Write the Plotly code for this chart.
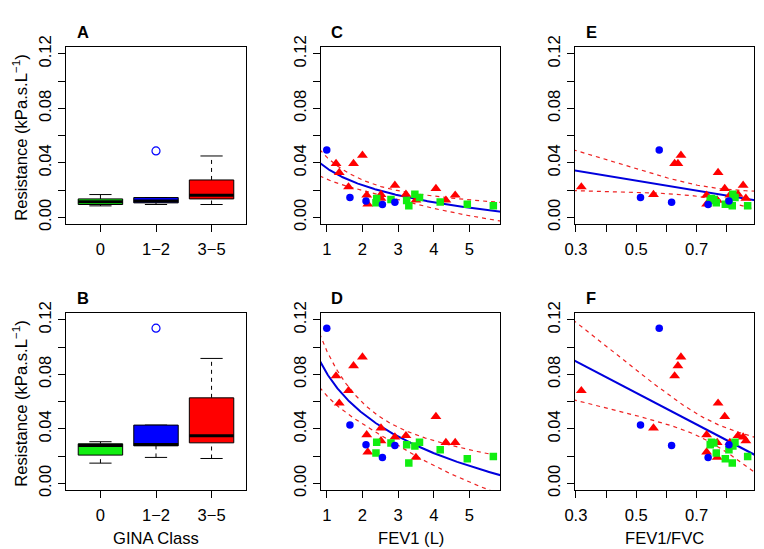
import numpy as np
import plotly.graph_objects as go

# ---------------- data ----------------
gina_labels = ["0", "1\u22122", "3\u22125"]
gina_colors = ["#11ee11", "#0000ff", "#ff0000"]

# Boxplot statistics, row A (resistance 1) and row B (resistance 2)
boxA_lo = [0.0085, 0.0095, 0.0095]
boxA_q1 = [0.0095, 0.0107, 0.0136]
boxA_med = [0.0116, 0.0121, 0.0163]
boxA_q3 = [0.0136, 0.0146, 0.0275]
boxA_hi = [0.0168, 0.0146, 0.0451]
boxA_out = [[], [0.0488], []]

boxB_lo = [0.0149, 0.0191, 0.0183]
boxB_q1 = [0.0208, 0.0276, 0.0298]
boxB_med = [0.0279, 0.0286, 0.0350]
boxB_q3 = [0.0291, 0.0428, 0.0628]
boxB_hi = [0.0306, 0.0428, 0.0917]
boxB_out = [[], [0.1139], []]

# Scatter data per GINA group
fev1_green = [2.38, 2.40, 2.80, 3.24, 3.30, 3.47, 3.60, 4.18, 4.94, 5.67]
ratio_green = [0.765, 0.749, 0.757, 0.745, 0.818, 0.820, 0.827, 0.807, 0.795, 0.869]
res1_green = [0.0107, 0.0139, 0.0132, 0.0125, 0.0085, 0.0170, 0.0146, 0.0114, 0.0097, 0.0085]
res2_green = [0.0223, 0.0303, 0.0296, 0.0284, 0.0150, 0.0275, 0.0303, 0.0248, 0.0181, 0.0198]

fev1_blue = [1.00, 1.65, 2.10, 2.56, 2.91]
ratio_blue = [0.576, 0.514, 0.807, 0.738, 0.617]
res1_blue = [0.0495, 0.0146, 0.0121, 0.0095, 0.0112]
res2_blue = [0.1139, 0.0428, 0.0284, 0.0191, 0.0279]

fev1_red = [1.26, 1.35, 1.61, 1.75, 2.00, 2.12, 2.15, 2.52, 2.52, 2.91, 3.22, 3.50, 4.06, 4.34, 4.60]
ratio_red = [0.627, 0.771, 0.318, 0.638, 0.648, 0.733, 0.733, 0.557, 0.863, 0.854, 0.837, 0.768, 0.793, 0.768, 0.810]
res1_red = [0.0395, 0.0329, 0.0224, 0.0395, 0.0456, 0.0163, 0.0097, 0.0168, 0.0140, 0.0236, 0.0170, 0.0127, 0.0212, 0.0127, 0.0163]
res2_red = [0.0789, 0.0589, 0.0680, 0.0863, 0.0927, 0.0357, 0.0230, 0.0406, 0.0313, 0.0340, 0.0350, 0.0191, 0.0491, 0.0300, 0.0300]

y_tickvals = [0.00, 0.04, 0.08, 0.12]
y_ticktext = ["0.00", "0.04", "0.08", "0.12"]
y_minor_step = 0.02
fev1_tickvals = [1, 2, 3, 4, 5]
ratio_tickvals = [0.3, 0.5, 0.7]
ratio_ticktext = ["0.3", "0.5", "0.7"]
ratio_minor_step = 0.1

# ---------------- layout geometry ----------------
W, H = 764, 549          # browser window
OFF = 8                  # default page body margin
FW, FH = W - OFF, H - OFF
FONT = "Liberation Sans, Arial, Helvetica, sans-serif"
FS = 16.6


def fx(px):
    return (px - OFF) / FW


def fy(py):
    return 1 - (py - OFF) / FH


col_px = [(66, 246), (320.7, 500.3), (575, 754.3)]
row_px = [(47.3, 224), (313.3, 490)]
xranges = [[0.38, 3.62], [0.83, 5.865], [0.297, 0.891]]
yrange = [-0.0048, 0.1248]

fig = go.Figure()


def axname(r, c):
    i = r * 3 + c + 1
    return ("x" if i == 1 else f"x{i}"), ("y" if i == 1 else f"y{i}")


def minor_ticks(t0, step):
    return dict(tickmode="linear", tick0=t0, dtick=step, ticks="outside", ticklen=7,
                tickwidth=1, tickcolor="black", showgrid=False)


layout = dict(width=FW, height=FH, autosize=False,
              margin=dict(l=0, r=0, t=0, b=0, pad=0, autoexpand=False),
              paper_bgcolor="white", plot_bgcolor="white", showlegend=False,
              font=dict(family=FONT, size=FS, color="black"))

for r in range(2):
    for c in range(3):
        xa, ya = axname(r, c)
        i = r * 3 + c + 1
        xk = "xaxis" if i == 1 else f"xaxis{i}"
        yk = "yaxis" if i == 1 else f"yaxis{i}"
        common = dict(showline=True, mirror=True, linecolor="black", linewidth=1,
                      ticks="outside", ticklen=7, tickwidth=1, tickcolor="black",
                      showgrid=False, zeroline=False, fixedrange=True, automargin=False,
                      tickfont=dict(family=FONT, size=FS, color="black"))
        x0, x1 = col_px[c]
        y0, y1 = row_px[r]
        xd = dict(common, domain=[fx(x0), fx(x1)], range=xranges[c], anchor=ya,
                  ticklabelstandoff=3)
        if c == 0:
            xd.update(tickmode="array", tickvals=[1, 2, 3], ticktext=gina_labels)
        elif c == 1:
            xd.update(tickmode="array", tickvals=fev1_tickvals)
        else:
            xd.update(tickmode="array", tickvals=ratio_tickvals, ticktext=ratio_ticktext,
                      minor=minor_ticks(ratio_tickvals[0], ratio_minor_step))
        yd = dict(common, domain=[fy(y1), fy(y0)], range=yrange, anchor=xa,
                  tickmode="array", tickvals=y_tickvals, ticktext=y_ticktext,
                  minor=minor_ticks(0, y_minor_step),
                  tickangle=-90, ticklabelstandoff=0)
        layout[xk] = xd
        layout[yk] = yd

# ---------------- boxplots ----------------
def add_boxes(r, lo, q1, med, q3, hi, outs):
    xa, ya = axname(r, 0)
    w = 0.4
    for g in range(3):
        p = g + 1
        # whiskers (dashed)
        fig.add_trace(go.Scatter(x=[p, p], y=[q3[g], hi[g]], mode="lines", xaxis=xa, yaxis=ya,
                                 line=dict(color="black", width=1, dash="4px,4px"), hoverinfo="skip"))
        fig.add_trace(go.Scatter(x=[p, p], y=[lo[g], q1[g]], mode="lines", xaxis=xa, yaxis=ya,
                                 line=dict(color="black", width=1, dash="4px,4px"), hoverinfo="skip"))
        # staples
        for v in (lo[g], hi[g]):
            fig.add_trace(go.Scatter(x=[p - w / 2, p + w / 2], y=[v, v], mode="lines", xaxis=xa, yaxis=ya,
                                     line=dict(color="black", width=1), hoverinfo="skip"))
        # box
        fig.add_trace(go.Scatter(x=[p - w, p + w, p + w, p - w, p - w],
                                 y=[q1[g], q1[g], q3[g], q3[g], q1[g]],
                                 mode="lines", fill="toself", fillcolor=gina_colors[g],
                                 xaxis=xa, yaxis=ya, line=dict(color="black", width=1), hoverinfo="skip"))
        # median
        fig.add_trace(go.Scatter(x=[p - w, p + w], y=[med[g], med[g]], mode="lines", xaxis=xa, yaxis=ya,
                                 line=dict(color="black", width=3), hoverinfo="skip"))
        if outs[g]:
            fig.add_trace(go.Scatter(x=[p] * len(outs[g]), y=outs[g], mode="markers", xaxis=xa, yaxis=ya,
                                     marker=dict(symbol="circle-open", size=8, color=gina_colors[g],
                                                 line=dict(width=1.2, color=gina_colors[g]))))


add_boxes(0, boxA_lo, boxA_q1, boxA_med, boxA_q3, boxA_hi, boxA_out)
add_boxes(1, boxB_lo, boxB_q1, boxB_med, boxB_q3, boxB_hi, boxB_out)

# ---------------- regression helpers ----------------
def t975(df):
    z = 1.959964
    return z + (z ** 3 + z) / (4 * df) + (5 * z ** 5 + 16 * z ** 3 + 3 * z) / (96 * df ** 2)


def fit_band(x, y, tf, grid):
    x = np.asarray(x, float)
    y = np.asarray(y, float)
    u = tf(x)
    n = len(u)
    ub = u.mean()
    sxx = ((u - ub) ** 2).sum()
    b = ((u - ub) * (y - y.mean())).sum() / sxx
    a = y.mean() - b * ub
    s = np.sqrt(((y - (a + b * u)) ** 2).sum() / (n - 2))
    ug = tf(grid)
    yh = a + b * ug
    se = s * np.sqrt(1.0 / n + (ug - ub) ** 2 / sxx)
    t = t975(n - 2)
    return yh, yh - t * se, yh + t * se


groups_x_fev1 = [fev1_red, fev1_green, fev1_blue]
groups_x_ratio = [ratio_red, ratio_green, ratio_blue]
groups_y1 = [res1_red, res1_green, res1_blue]
groups_y2 = [res2_red, res2_green, res2_blue]
sym = ["triangle-up", "square", "circle"]
msize = [9.5, 7.5, 7.5]
cols = ["#ff0000", "#11ee11", "#0000ff"]


def add_scatter_panel(r, c, xs, ys, tf, grid):
    xa, ya = axname(r, c)
    allx = sum(xs, [])
    ally = sum(ys, [])
    yh, lo, hi = fit_band(allx, ally, tf, grid)
    for band in (lo, hi):
        fig.add_trace(go.Scatter(x=grid, y=band, mode="lines", xaxis=xa, yaxis=ya,
                                 line=dict(color="#ee2222", width=1.2, dash="4px,4px"), hoverinfo="skip"))
    fig.add_trace(go.Scatter(x=grid, y=yh, mode="lines", xaxis=xa, yaxis=ya,
                             line=dict(color="#0000dd", width=2), hoverinfo="skip"))
    for g in range(3):
        fig.add_trace(go.Scatter(x=xs[g], y=ys[g], mode="markers", xaxis=xa, yaxis=ya,
                                 marker=dict(symbol=sym[g], size=msize[g], color=cols[g],
                                             line=dict(width=0)), cliponaxis=True))


grid_fev1 = np.linspace(0.80, 5.90, 300)
grid_ratio = np.linspace(0.29, 0.90, 100)
add_scatter_panel(0, 1, groups_x_fev1, groups_y1, np.log, grid_fev1)
add_scatter_panel(1, 1, groups_x_fev1, groups_y2, np.log, grid_fev1)
add_scatter_panel(0, 2, groups_x_ratio, groups_y1, lambda v: v, grid_ratio)
add_scatter_panel(1, 2, groups_x_ratio, groups_y2, lambda v: v, grid_ratio)

# ---------------- annotations ----------------
ann = []
letters = [["A", "C", "E"], ["B", "D", "F"]]
letter_y = [32, 297.5]
for r in range(2):
    for c in range(3):
        ann.append(dict(text=f"<b>{letters[r][c]}</b>", xref="paper", yref="paper",
                        x=fx(col_px[c][0] + 8.5), y=fy(letter_y[r]),
                        xanchor="left", yanchor="middle", showarrow=False,
                        font=dict(family=FONT, size=16.5, color="black")))
ytitle = "Resistance (kPa.s.L<sup>\u22121</sup>)"
for r in range(2):
    yc = (row_px[r][0] + row_px[r][1]) / 2 + 2
    ann.append(dict(text=ytitle, xref="paper", yref="paper", x=fx(OFF), y=fy(yc),
                    xanchor="left", yanchor="middle", textangle=-90, showarrow=False,
                    borderpad=0, font=dict(family=FONT, size=FS, color="black")))
xtitles = ["GINA Class", "FEV1 (L)", "FEV1/FVC"]
for c in range(3):
    xc = (col_px[c][0] + col_px[c][1]) / 2
    ann.append(dict(text=xtitles[c], xref="paper", yref="paper", x=fx(xc), y=fy(538.5),
                    xanchor="center", yanchor="middle", showarrow=False,
                    font=dict(family=FONT, size=FS, color="black")))
layout["annotations"] = ann

fig.update_layout(**layout)
fig.write_html("out.html")
